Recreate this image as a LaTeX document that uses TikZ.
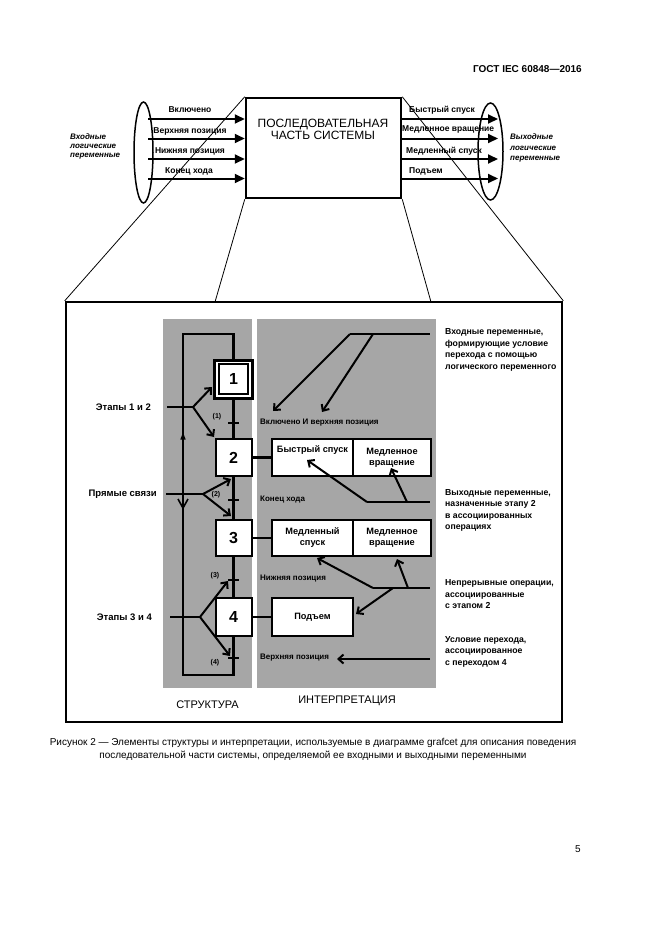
\documentclass[tikz,border=0pt]{standalone}
\usepackage{fontspec}
\setmainfont{Liberation Sans}
\usetikzlibrary{arrows.meta}
\definecolor{panelgray}{RGB}{166,166,166}
\begin{document}
\begin{tikzpicture}[x=1pt,y=-1pt,
  txt/.style={inner sep=0pt,font=\fontsize{8.5}{9.5}\selectfont\bfseries},
  lbl/.style={inner sep=0pt,anchor=west,font=\fontsize{8.5}{9.5}\selectfont\bfseries},
  ilbl/.style={inner sep=0pt,anchor=west,font=\fontsize{8}{9.5}\selectfont\bfseries},
  desc/.style={inner sep=0pt,anchor=west,align=left,font=\fontsize{8.7}{11.5}\selectfont\bfseries},
  side/.style={inner sep=0pt,anchor=east,font=\fontsize{9.5}{10}\selectfont\bfseries},
  num/.style={inner sep=0pt,font=\fontsize{7}{8}\selectfont\bfseries},
  thickline/.style={line width=2.2pt,line join=miter},
  inarrow/.style={line width=2pt,-{Triangle[length=10pt,width=9pt]}},
  barb/.style={line width=2pt,-{Straight Barb[length=5pt,width=9pt]}},
  stepbox/.style={draw,line width=2pt,fill=white,minimum width=36pt,minimum height=37pt,inner sep=0pt,font=\fontsize{16}{16}\selectfont\bfseries},
  actbox/.style={draw,line width=2pt,fill=white,minimum height=37pt,inner sep=0pt,align=center,font=\fontsize{9.2}{11}\selectfont\bfseries},
  funnel/.style={line width=0.8pt},
]
\useasboundingbox (0,0) rectangle (661,935);
\fill[white] (0,0) rectangle (661,935);

% header
\node[inner sep=0pt,anchor=east,font=\fontsize{10}{12}\selectfont\bfseries] (hdr) at (582,69) {ГОСТ IEC 60848—2016};

% top system box
\node[draw,line width=2.5pt,minimum width=155pt,minimum height=100pt,inner sep=0pt] (sys) at (323.5,148) {};
\node[inner sep=0pt,align=center,font=\fontsize{12}{12}\selectfont] (systxt) at (323,129) {ПОСЛЕДОВАТЕЛЬНАЯ\\ЧАСТЬ СИСТЕМЫ};

% ellipses
\draw[line width=1.5pt] (143.5,152.5) ellipse [x radius=9.5pt,y radius=50.5pt];
\draw[line width=1.5pt] (490.5,151.5) ellipse [x radius=12.5pt,y radius=48.5pt];

% input arrows
\coordinate (i1) at (148,119);
\coordinate (i2) at (148,138.5);
\coordinate (i3) at (148,159);
\coordinate (i4) at (148,178.5);
\draw[inarrow] (i1) -- (i1 -| sys.west);
\draw[inarrow] (i2) -- (i2 -| sys.west);
\draw[inarrow] (i3) -- (i3 -| sys.west);
\draw[inarrow] (i4) -- (i4 -| sys.west);
\node[txt] (li1) at (190,110) {Включено};
\node[txt] (li2) at (190,131) {Верхняя позиция};
\node[txt] (li3) at (190,151) {Нижняя позиция};
\node[txt] (li4) at (189,171) {Конец хода};

% output arrows
\coordinate (o1) at (498,119);
\coordinate (o2) at (498,138.5);
\coordinate (o3) at (498,159);
\coordinate (o4) at (498,178.5);
\draw[inarrow] (o1 -| sys.east) -- (o1);
\draw[inarrow] (o2 -| sys.east) -- (o2);
\draw[inarrow] (o3 -| sys.east) -- (o3);
\draw[inarrow] (o4 -| sys.east) -- (o4);
\node[lbl] (lo1) at (409,110) {Быстрый спуск};
\node[lbl] (lo2) at (402,129) {Медленное вращение};
\node[lbl] (lo3) at (406,151) {Медленный спуск};
\node[lbl] (lo4) at (409,171) {Подъем};

\node[inner sep=0pt,anchor=west,align=left,font=\fontsize{8}{9}\selectfont\bfseries\itshape] (invars) at (70,146) {Входные\\логические\\переменные};
\node[inner sep=0pt,anchor=west,align=left,font=\fontsize{8}{10.5}\selectfont\bfseries\itshape] (outvars) at (510,148) {Выходные\\логические\\переменные};

% detail frame
\node[draw,line width=2.5pt,minimum width=496pt,minimum height=420pt,inner sep=0pt] (frame) at (314,512) {};
\coordinate (fl) at (215,302);
\coordinate (fr) at (431,302);
\draw[funnel] (sys.north west) -- (frame.north west);
\draw[funnel] (sys.north east) -- (frame.north east);
\draw[funnel] (sys.south west) -- (fl);
\draw[funnel] (sys.south east) -- (fr);

% panels
\fill[panelgray] (163,319) rectangle (252,688);
\fill[panelgray] (257,319) rectangle (436,688);
\node[inner sep=0pt,font=\fontsize{11}{12}\selectfont] (struct) at (207.5,705) {СТРУКТУРА};
\node[inner sep=0pt,font=\fontsize{11}{12}\selectfont] (interp) at (347,701) {ИНТЕРПРЕТАЦИЯ};

% steps
\node[stepbox,line width=3pt,minimum width=38pt,minimum height=38pt] (s1) at (233.5,379) {1};
\node[draw,line width=1.5pt,minimum width=29pt,minimum height=30pt,inner sep=0pt] (s1in) at (s1) {};
\node[stepbox] (s2) at (233.5,457.5) {2};
\node[stepbox,minimum height=36pt] (s3) at (233.5,538) {3};
\node[stepbox,minimum height=38pt] (s4) at (233.5,617) {4};

\draw[thickline] (s1.south) -- (s2.north);
\draw[thickline] (s2.south) -- (s3.north);
\draw[thickline] (s3.south) -- (s4.north);

\coordinate (lbr) at (233.5,675);
\coordinate (lbl) at (183,675);
\coordinate (ltl) at (183,334);
\coordinate (ltr) at (233.5,334);
\draw[thickline] (s4.south) -- (lbr) -- (lbl) -- (ltl) -- (ltr) -- (s1.north);

% transitions
\node[fill,minimum width=11pt,minimum height=2.8pt,inner sep=0pt] (t1) at (233.5,423) {};
\node[fill,minimum width=11pt,minimum height=2.8pt,inner sep=0pt] (t2) at (233.5,500) {};
\node[fill,minimum width=11pt,minimum height=2.8pt,inner sep=0pt] (t3) at (233.5,580) {};
\node[fill,minimum width=11pt,minimum height=2.8pt,inner sep=0pt] (t4) at (233.5,658) {};

% markers on loop line
\fill (183,432.5) -- (180.3,439.5) -- (185.7,439.5) -- cycle;
\draw[line width=1.6pt] (178,499) -- (183,508) -- (188,499);

% left labels and branches
\node[side] (e12l) at (151,407) {Этапы 1 и 2};
\coordinate (e12) at (167,407);
\coordinate (b12) at (193,407);
\coordinate (tip1) at (212,387);
\coordinate (tip2) at (214,437);
\draw[thickline] (e12) -- (b12);
\draw[barb] (b12) -- (tip1);
\draw[barb] (b12) -- (tip2);
\node[num] (n1) at (217,417) {(1)};

\node[side] (pl) at (157,494) {Прямые связи};
\coordinate (ep) at (166,494);
\coordinate (bp) at (203,494);
\coordinate (tip3) at (231,479);
\coordinate (tip4) at (231,516);
\draw[thickline] (ep) -- (bp);
\draw[barb] (bp) -- (tip3);
\draw[barb] (bp) -- (tip4);
\node[num] (n2) at (216,495) {(2)};

\node[side] (e34l) at (152,617) {Этапы 3 и 4};
\coordinate (e34) at (170,617);
\coordinate (b34) at (200,617);
\coordinate (tip5) at (228,581);
\coordinate (tip6) at (230,656);
\draw[thickline] (e34) -- (b34);
\draw[barb] (b34) -- (tip5);
\draw[barb] (b34) -- (tip6);
\node[num] (n3) at (215,576) {(3)};
\node[num] (n4) at (215,663) {(4)};

% action boxes
\node[actbox,minimum width=81pt] (a2a) at (312.5,457.5) {};
\node[inner sep=0pt,font=\fontsize{9.2}{11}\selectfont\bfseries] (a2at) at (312.5,450) {Быстрый спуск};
\node[actbox,minimum width=78pt] (a2b) at (392,457.5) {Медленное\\вращение};
\node[actbox,minimum width=81pt,minimum height=36pt] (a3a) at (312.5,538) {Медленный\\спуск};
\node[actbox,minimum width=78pt,minimum height=36pt] (a3b) at (392,538) {Медленное\\вращение};
\node[actbox,minimum width=81pt,minimum height=38pt] (a4) at (312.5,617) {Подъем};
\draw[thickline] (s2.east) -- (a2a.west);
\draw[thickline] (s3.east) -- (a3a.west);
\draw[thickline] (s4.east) -- (a4.west);

% interpretation labels
\node[ilbl] (c1) at (260,423) {Включено И верхняя позиция};
\node[ilbl] (c2) at (260,500) {Конец хода};
\node[ilbl] (c3) at (260,579) {Нижняя позиция};
\node[ilbl] (c4) at (260,658) {Верхняя позиция};

% arrows A
\coordinate (ha1) at (350,334);
\coordinate (ha2) at (373,334);
\coordinate (ha3) at (430,334);
\coordinate (ta1) at (273,411);
\coordinate (ta2) at (322,412);
\draw[line width=2pt] (ha1) -- (ha3);
\draw[barb] (ha1) -- (ta1);
\draw[barb] (ha2) -- (ta2);

% arrows B
\coordinate (hb1) at (367,502);
\coordinate (hb2) at (407,502);
\coordinate (hb3) at (430,502);
\coordinate (tb1) at (307,460);
\coordinate (tb2) at (391,468);
\draw[line width=2pt] (hb1) -- (hb3);
\draw[barb] (hb1) -- (tb1);
\draw[barb] (hb2) -- (tb2);

% arrows C
\coordinate (hc1) at (373,588);
\coordinate (hc2) at (393,588);
\coordinate (hc3) at (408,588);
\coordinate (hc4) at (430,588);
\coordinate (tc1) at (317,558);
\coordinate (tc2) at (356,614);
\coordinate (tc3) at (397,559);
\draw[line width=2pt] (hc1) -- (hc4);
\draw[barb] (hc1) -- (tc1);
\draw[barb] (hc2) -- (tc2);
\draw[barb] (hc3) -- (tc3);

% arrow D
\coordinate (hd) at (430,659);
\coordinate (td) at (337,659);
\draw[barb] (hd) -- (td);

% right descriptions
\node[desc] (d1) at (445,350) {Входные переменные,\\формирующие условие\\перехода с помощью\\логического переменного};
\node[desc] (d2) at (445,510.5) {Выходные переменные,\\назначенные этапу 2\\в ассоциированных\\операциях};
\node[desc] (d3) at (445,594.5) {Непрерывные операции,\\ассоциированные\\с этапом 2};
\node[desc] (d4) at (445,651.5) {Условие перехода,\\ассоциированное\\с переходом 4};

% caption
\node[inner sep=0pt,align=center,font=\fontsize{10}{13}\selectfont] (cap) at (313,749.5) {Рисунок 2 — Элементы структуры и интерпретации, используемые в диаграмме grafcet для описания поведения\\последовательной части системы, определяемой ее входными и выходными переменными};

\node[inner sep=0pt,font=\fontsize{10}{12}\selectfont] (pg) at (578,849) {5};
\end{tikzpicture}
\end{document}
